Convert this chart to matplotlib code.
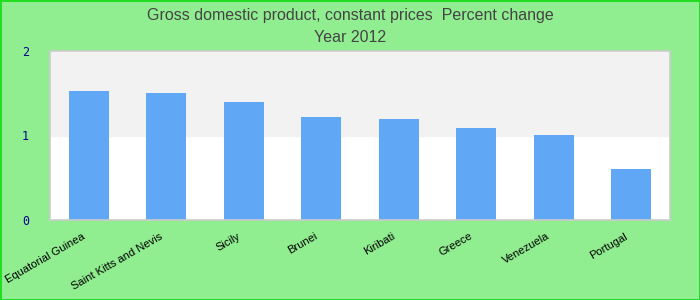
import matplotlib.pyplot as plt
from matplotlib.transforms import ScaledTranslation

countries = ['Equatorial Guinea', 'Saint Kitts and Nevis', 'Sicily', 'Brunei',
             'Kiribati', 'Greece', 'Venezuela', 'Portugal']
values = [1.53, 1.50, 1.40, 1.22, 1.20, 1.09, 1.01, 0.60]
yticks = [0, 1, 2]

fig = plt.figure(figsize=(7, 3), dpi=100, facecolor='#90ee90',
                 edgecolor='#22dd22', linewidth=2)
ax = fig.add_axes([50 / 700, 1 - 220 / 300, 620 / 700, 169 / 300])
ax.set_facecolor('white')

# grey band between 1 and 2
ax.axhspan(1, 2, color='#f2f2f2', zorder=0)

x = list(range(len(countries)))
ax.bar(x, values, width=0.52, color='#60a8f5', zorder=2)

ax.set_xlim(-0.5, len(countries) - 0.5)
ax.set_ylim(0, 2)
ax.set_yticks(yticks)
ax.set_yticklabels([str(t) for t in yticks], family='DejaVu Sans Mono',
                   fontsize=8.5, color='#00008b')
ax.set_xticks(x)
ax.set_xticklabels(countries, rotation=30, ha='right', rotation_mode='anchor',
                   fontsize=8, family='Liberation Sans')
ax.tick_params(axis='x', length=0, pad=8)
ax.tick_params(axis='y', length=0, pad=15)

# labels sit a bit left of the tick
shift = ScaledTranslation(-7 / 100, 0, fig.dpi_scale_trans)
for lbl in ax.get_xticklabels():
    lbl.set_transform(lbl.get_transform() + shift)

for s in ax.spines.values():
    s.set_color('#cccccc')
    s.set_linewidth(1.2)

fig.text(0.5, 0.947, 'Gross domestic product, constant prices  Percent change',
         ha='center', va='center', fontsize=11.5, color='#444444',
         family='Liberation Sans')
fig.text(0.5, 0.875, 'Year 2012', ha='center', va='center', fontsize=11.5,
         color='#444444', family='Liberation Sans')

fig.savefig('out.png', dpi=100, facecolor=fig.get_facecolor(),
            edgecolor=fig.get_edgecolor())
